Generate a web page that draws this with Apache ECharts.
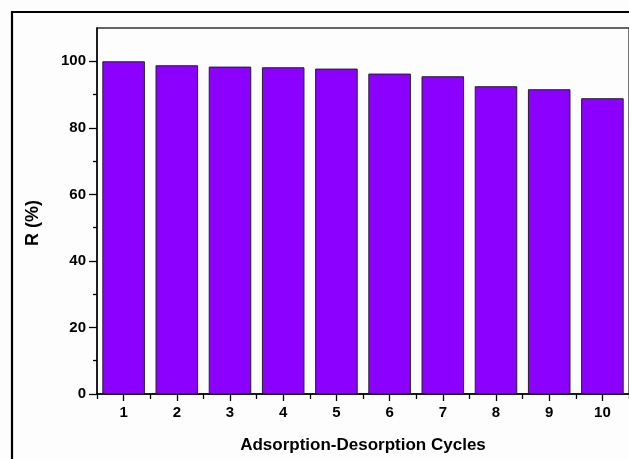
<!DOCTYPE html>
<html>
<head>
<meta charset="utf-8">
<script src="https://cdn.jsdelivr.net/npm/echarts@6/dist/echarts.min.js"></script>
<style>
  html, body { margin: 0; padding: 0; background: #fdfdfd; }
  #chart { width: 629px; height: 459px; }
</style>
</head>
<body>
<div id="chart"></div>
<script>
// Removal efficiency over repeated adsorption-desorption cycles
const cycles = ['1', '2', '3', '4', '5', '6', '7', '8', '9', '10'];
const removal = [100, 98.8, 98.4, 98.2, 97.8, 96.3, 95.5, 92.5, 91.6, 88.9];
const majorTicks = [0, 20, 40, 60, 80, 100];
const minorTicks = [10, 30, 50, 70, 90];

const FONT = '"Liberation Sans", Arial, sans-serif';

const chart = echarts.init(document.getElementById('chart'), null, { renderer: 'canvas' });

chart.setOption({
  backgroundColor: '#fdfdfd',
  animation: false,
  grid: {
    left: 97, top: 28, width: 533.3, height: 366.3,
    show: true, borderColor: '#333', borderWidth: 1.3, backgroundColor: 'transparent'
  },
  xAxis: [
    {
      type: 'category',
      data: cycles,
      position: 'bottom',
      name: 'Adsorption-Desorption Cycles',
      nameLocation: 'middle',
      nameGap: 43,
      nameTextStyle: { fontFamily: FONT, fontWeight: 'bold', fontSize: 17, color: '#000' },
      axisLine: { show: true, lineStyle: { color: '#000', width: 1.5 } },
      axisTick: { show: true, alignWithLabel: true, inside: false, length: 7, lineStyle: { color: '#000', width: 1.3 } },
      axisLabel: { fontFamily: FONT, fontWeight: 'bold', fontSize: 15, color: '#000', margin: 11 },
      splitLine: { show: false }
    },
    {
      // boundary ticks between cycles
      type: 'category',
      data: cycles,
      position: 'bottom',
      axisLine: { show: false },
      axisTick: { show: true, alignWithLabel: false, length: 5, lineStyle: { color: '#000', width: 1.3 } },
      axisLabel: { show: false },
      splitLine: { show: false }
    }
  ],
  yAxis: [
    {
      type: 'value',
      min: 0, max: 110, interval: 20,
      position: 'left',
      axisLine: { show: true, lineStyle: { color: '#000', width: 1.5 } },
      axisTick: { show: true, length: 8, customValues: majorTicks, lineStyle: { color: '#000', width: 1.3 } },
      axisLabel: { fontFamily: FONT, fontWeight: 'bold', fontSize: 15, color: '#000', margin: 11, customValues: majorTicks },
      splitLine: { show: false }
    },
    {
      // minor ticks at the odd tens
      type: 'value',
      min: 0, max: 110, interval: 10,
      position: 'left',
      axisLine: { show: false },
      axisTick: { show: true, length: 4, customValues: minorTicks, lineStyle: { color: '#000', width: 1.3 } },
      axisLabel: { show: false },
      splitLine: { show: false }
    }
  ],
  series: [
    {
      type: 'bar',
      data: removal,
      xAxisIndex: 0,
      yAxisIndex: 0,
      barCategoryGap: '20%',
      itemStyle: { color: '#8c00ff', borderColor: '#222', borderWidth: 1 }
    }
  ],
  graphic: [
    {
      type: 'rect',
      shape: { x: 12, y: 12, width: 700, height: 600 },
      style: { fill: 'none', stroke: '#000', lineWidth: 2.2 },
      silent: true
    },
    {
      type: 'text',
      x: 33, y: 223,
      rotation: Math.PI / 2,
      style: {
        text: 'R (%)',
        fontFamily: FONT, fontWeight: 'bold', fontSize: 18, fill: '#000',
        align: 'center', verticalAlign: 'middle'
      }
    }
  ]
});
</script>
</body>
</html>
